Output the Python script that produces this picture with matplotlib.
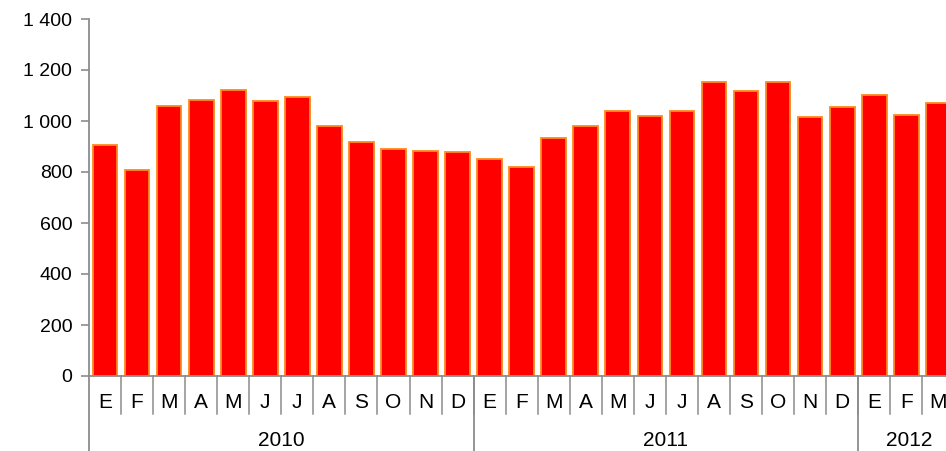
import matplotlib
matplotlib.use("Agg")
import matplotlib.pyplot as plt
import matplotlib.transforms as mtransforms
from matplotlib.ticker import FuncFormatter

plt.rcParams['font.family'] = ['Liberation Sans', 'DejaVu Sans']

# data
months = ['E', 'F', 'M', 'A', 'M', 'J', 'J', 'A', 'S', 'O', 'N', 'D',
          'E', 'F', 'M', 'A', 'M', 'J', 'J', 'A', 'S', 'O', 'N', 'D',
          'E', 'F', 'M']
years = ['2010', '2011', '2012']
year_lengths = [12, 12, 3]
values = [907, 809, 1060, 1082, 1122, 1080, 1094, 980, 918, 892, 884, 877,
          851, 821, 935, 982, 1038, 1018, 1038, 1151, 1116, 1151, 1016, 1053,
          1101, 1024, 1072]

GREY = '#8c8c8c'

fig = plt.figure(figsize=(9.46, 4.51), dpi=100)
W, H = 946, 451
x0, y0, ytop = 89, 376, 19
slot = 32.05
ax = fig.add_axes([x0 / W, (H - y0) / H, len(months) * slot / W, (y0 - ytop) / H])

xs = list(range(len(months)))
ax.bar(xs, values, width=0.77, color='#ff0000', edgecolor='#ff8a1c', linewidth=1.3)

ax.set_xlim(-0.5, len(months) - 0.5)
ax.set_ylim(0, 1400)
ax.set_yticks(range(0, 1401, 200))
ax.yaxis.set_major_formatter(FuncFormatter(lambda v, p: f'{int(v):,}'.replace(',', ' ')))
ax.tick_params(axis='y', length=6, width=1.2, color=GREY, labelsize=14, pad=6)
ax.set_xticks([])

for s in ['top', 'right']:
    ax.spines[s].set_visible(False)
for s in ['left', 'bottom']:
    ax.spines[s].set_color(GREY)
    ax.spines[s].set_linewidth(1.3)

# category axis drawn by hand (months, then years)
trans = mtransforms.blended_transform_factory(ax.transData, fig.transFigure)
month_bot = (H - 414) / H
month_y = (H - 402) / H
year_y = (H - 441) / H

for i in range(len(months) - 1):
    ax.plot([i + 0.5, i + 0.5], [(H - y0) / H, month_bot], color=GREY, lw=1.1,
            transform=trans, clip_on=False)
for i, m in enumerate(months):
    ax.text(i, month_y, m, transform=trans, ha='center', va='center', fontsize=15)

start = 0
for y, n in zip(years, year_lengths):
    ax.plot([start - 0.5, start - 0.5], [(H - y0) / H, 0], color=GREY, lw=1.3,
            transform=trans, clip_on=False)
    xc = start + (n - 1) / 2 if n == 12 else start + 1.1
    ax.text(xc, year_y, y, transform=trans, ha='center', va='center', fontsize=15)
    start += n

fig.savefig('out.png', dpi=100)
